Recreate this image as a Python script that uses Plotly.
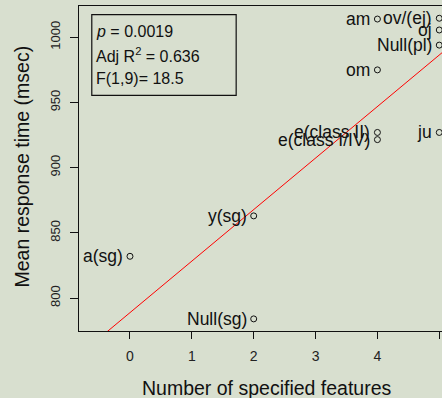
import numpy as np
import plotly.graph_objects as go

# ---- data ----
features = [0, 2, 2, 4, 4, 4, 4, 5, 5, 5, 5]
rt_msec = [832, 863, 784, 1014, 975, 927, 921.5, 1014.6, 1005.6, 994, 927]
labels = ["a(sg)", "y(sg)", "Null(sg)", "am", "om", "e(class II)",
          "e(class I/IV)", "ov/(ej)", "oj", "Null(pl)", "ju"]
x_ticks = [0, 1, 2, 3, 4, 5]
y_ticks = [800, 850, 900, 950, 1000]
stats_lines = ["<i>p</i> = 0.0019", "Adj R<sup>2</sup> = 0.636", "F(1,9)= 18.5"]
x_title = "Number of specified features"
y_title = "Mean response time (msec)"

BG = "rgb(216,223,207)"
FONT = "Liberation Sans, Arial, sans-serif"
INK = "#111111"

# geometry (pixels)
W, H = 442, 398
L, R, T, B = 78.7, 0, 6, 67.3
XMIN, XMAX = -0.824, 5.044
YMIN, YMAX = 774.7, 1024.0

slope, intercept = np.polyfit(features, rt_msec, 1)
lx = np.array([XMIN - 1, XMAX + 1])
ly = intercept + slope * lx

fig = go.Figure()
fig.add_trace(go.Scatter(x=lx, y=ly, mode="lines",
                         line=dict(color="red", width=1), hoverinfo="skip"))
fig.add_trace(go.Scatter(x=features, y=rt_msec, mode="markers",
                         marker=dict(symbol="circle-open", size=6,
                                     line=dict(color=INK, width=1), color=INK),
                         cliponaxis=False))

for xv, yv, lab in zip(features, rt_msec, labels):
    fig.add_annotation(x=xv, y=yv, text=lab, showarrow=False,
                       xanchor="right", yanchor="middle", xshift=-5,
                       font=dict(family=FONT, size=17.5, color=INK))

# stats box
def px2x(px):
    return XMIN + (px - L) / (W - L - R) * (XMAX - XMIN)

def py2y(py):
    return YMAX - (py - T) / (H - T - B) * (YMAX - YMIN)

fig.add_shape(type="rect", x0=px2x(91.5), x1=px2x(236), y0=py2y(95.3), y1=py2y(14.7),
              line=dict(color=INK, width=1.2))
for i, line in enumerate(stats_lines):
    fig.add_annotation(x=px2x(93.5), y=py2y(31.3 + 23.8 * i), text=line,
                       showarrow=False, xanchor="left", yanchor="middle",
                       font=dict(family=FONT, size=16, color=INK))

# axis titles
fig.add_annotation(xref="paper", yref="paper", x=(266.5 - L) / (W - L - R),
                   y=(H - B - 388) / (H - T - B), text=x_title, showarrow=False,
                   xanchor="center", yanchor="middle",
                   font=dict(family=FONT, size=19.5, color=INK))
fig.add_annotation(xref="paper", yref="paper", x=(22 - L) / (W - L - R),
                   y=(H - B - 166) / (H - T - B), text=y_title, showarrow=False,
                   textangle=-90, xanchor="center", yanchor="middle",
                   font=dict(family=FONT, size=19.5, color=INK))

fig.update_layout(
    width=W, height=H,
    margin=dict(l=L, r=R, t=T, b=B, pad=0),
    paper_bgcolor=BG, plot_bgcolor=BG,
    showlegend=False,
    xaxis=dict(range=[XMIN, XMAX], tickvals=x_ticks, ticks="outside", ticklen=7,
               tickcolor=INK, tickwidth=1.2, showline=True, linecolor=INK,
               linewidth=1.3, mirror=True, showgrid=False, zeroline=False,
               tickfont=dict(family=FONT, size=14, color="#222222"),
               ticklabelstandoff=5),
    yaxis=dict(range=[YMIN, YMAX], tickvals=y_ticks, ticks="outside", ticklen=8,
               tickcolor=INK, tickwidth=1.2, showline=True, linecolor=INK,
               linewidth=1.3, showgrid=False, zeroline=False, tickangle=-90,
               tickfont=dict(family=FONT, size=13, color="#222222"),
               ticklabelstandoff=5),
)

fig.write_html("out.html")
